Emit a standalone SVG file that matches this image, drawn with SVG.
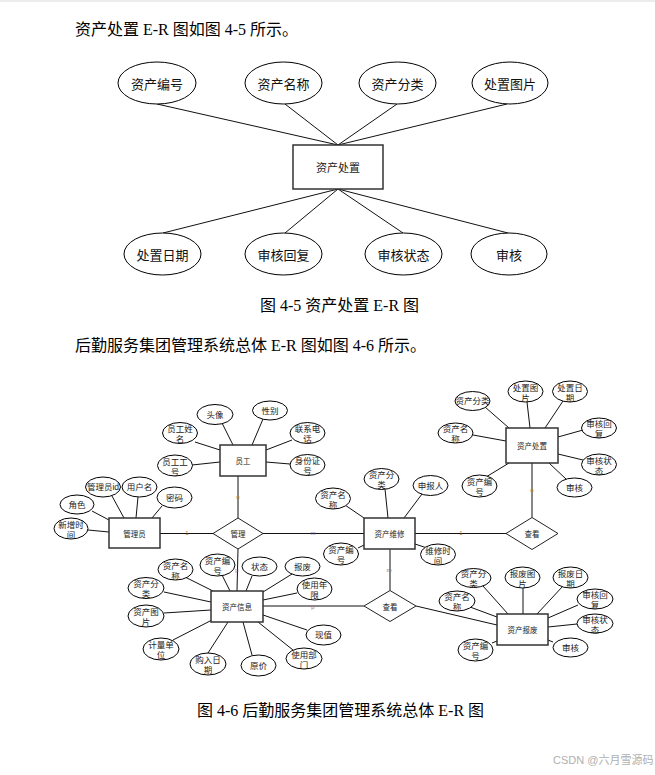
<svg xmlns="http://www.w3.org/2000/svg" width="655" height="775" viewBox="0 0 655 775">
<style>
.e{fill:#fff;stroke:#000;stroke-width:1}
.r{fill:#fff;stroke:#333;stroke-width:1.5}
.d{fill:#fff;stroke:#222;stroke-width:1}
.c line{stroke:#111;stroke-width:1}
.t1{font-family:"Noto Sans CJK SC",sans-serif;font-size:13px;text-anchor:middle;dominant-baseline:central;fill:#111}
.t2{font-family:"Liberation Sans","Noto Sans CJK SC",sans-serif;font-size:8.5px;text-anchor:middle;dominant-baseline:central;fill:#222}
.rt{font-family:"Noto Sans CJK SC",sans-serif;font-size:7.5px;text-anchor:middle;dominant-baseline:central;fill:#222}
.rt1{font-family:"Noto Sans CJK SC",sans-serif;font-size:11px;text-anchor:middle;dominant-baseline:central;fill:#222}
.p{font-family:"Liberation Serif","Noto Sans CJK SC",serif;font-size:16px;fill:#000}
.card{font-family:"Liberation Sans",sans-serif;font-size:6px;text-anchor:middle;dominant-baseline:central}
.o{fill:#c0702a}
.b{fill:#4a7aa8}
.wm{font-family:"Liberation Sans","Noto Sans CJK SC",sans-serif;font-size:11px;fill:#b0b0b0}
</style>
<rect width="655" height="775" fill="#fff"/>
<rect width="655" height="2" fill="#ececec"/>

<text class="p" x="75" y="35">资产处置 E-R 图如图 4-5 所示。</text>

<!-- Diagram 1 connectors -->
<g id="connectors-1" class="c">
<line x1="157" y1="104" x2="338" y2="145"/>
<line x1="285" y1="104" x2="338" y2="145"/>
<line x1="397" y1="104" x2="338" y2="145"/>
<line x1="507" y1="104" x2="338" y2="145"/>
<line x1="338" y1="189" x2="163" y2="233"/>
<line x1="338" y1="189" x2="285" y2="233"/>
<line x1="338" y1="189" x2="403" y2="233"/>
<line x1="338" y1="189" x2="508" y2="233"/>
</g>
<g id="d1-attr-bianhao"><ellipse class="e" cx="157" cy="83" rx="39" ry="21"/><text class="t1" x="157" y="83">资产编号</text></g>
<g id="d1-attr-mingcheng"><ellipse class="e" cx="283.5" cy="83" rx="38.5" ry="21"/><text class="t1" x="283.5" y="83">资产名称</text></g>
<g id="d1-attr-fenlei"><ellipse class="e" cx="397.5" cy="83" rx="38.5" ry="21"/><text class="t1" x="397.5" y="83">资产分类</text></g>
<g id="d1-attr-tupian"><ellipse class="e" cx="510" cy="83" rx="38" ry="21"/><text class="t1" x="510" y="83">处置图片</text></g>
<g id="d1-entity"><rect class="r" x="293" y="145" width="90" height="44"/><text class="rt1" x="338" y="167">资产处置</text></g>
<g id="d1-attr-riqi"><ellipse class="e" cx="162.5" cy="254" rx="38.5" ry="21"/><text class="t1" x="162.5" y="254">处置日期</text></g>
<g id="d1-attr-huifu"><ellipse class="e" cx="283.5" cy="254" rx="38.5" ry="21"/><text class="t1" x="283.5" y="254">审核回复</text></g>
<g id="d1-attr-zhuangtai"><ellipse class="e" cx="403.5" cy="254" rx="38.5" ry="21"/><text class="t1" x="403.5" y="254">审核状态</text></g>
<g id="d1-attr-shenhe"><ellipse class="e" cx="509" cy="254" rx="38" ry="21"/><text class="t1" x="509" y="254">审核</text></g>

<text class="p" x="260" y="311">图 4-5 资产处置 E-R 图</text>

<text class="p" x="75" y="351">后勤服务集团管理系统总体 E-R 图如图 4-6 所示。</text>

<!-- Diagram 2 connectors -->
<g id="connectors-2" class="c">
<!-- 员工 -->
<line x1="222" y1="423" x2="233" y2="445"/>
<line x1="263" y1="419" x2="252" y2="445"/>
<line x1="292" y1="440" x2="266" y2="450"/>
<line x1="266" y1="462" x2="290" y2="464"/>
<line x1="195" y1="442" x2="220" y2="450"/>
<line x1="192" y1="465" x2="220" y2="462"/>
<!-- 管理员 -->
<line x1="112" y1="496" x2="124" y2="518"/>
<line x1="138" y1="497" x2="136" y2="518"/>
<line x1="162" y1="506" x2="152" y2="518"/>
<line x1="92" y1="511" x2="109" y2="520"/>
<line x1="88" y1="530" x2="109" y2="532"/>
<!-- 资产维修 -->
<line x1="385" y1="489" x2="388" y2="518"/>
<line x1="422" y1="494" x2="404" y2="518"/>
<line x1="345" y1="505" x2="364" y2="518"/>
<line x1="358" y1="548" x2="364" y2="545"/>
<line x1="427" y1="548" x2="415" y2="544"/>
<!-- 资产处置 -->
<line x1="485" y1="407" x2="509" y2="428"/>
<line x1="527" y1="402" x2="530" y2="428"/>
<line x1="563" y1="401" x2="545" y2="428"/>
<line x1="473" y1="435" x2="506" y2="441"/>
<line x1="583" y1="430" x2="558" y2="437"/>
<line x1="583" y1="460" x2="558" y2="454"/>
<line x1="566" y1="479" x2="549" y2="463"/>
<line x1="486" y1="477" x2="509" y2="463"/>
<!-- 资产信息 -->
<line x1="185" y1="577" x2="213" y2="591"/>
<line x1="222" y1="575" x2="230" y2="591"/>
<line x1="252" y1="576" x2="246" y2="591"/>
<line x1="292" y1="574" x2="263" y2="592"/>
<line x1="297" y1="593" x2="263" y2="600"/>
<line x1="164" y1="592" x2="211" y2="602"/>
<line x1="164" y1="613" x2="211" y2="610"/>
<line x1="173" y1="640" x2="212" y2="620"/>
<line x1="208" y1="653" x2="228" y2="622"/>
<line x1="252" y1="655" x2="243" y2="622"/>
<line x1="293" y1="650" x2="258" y2="622"/>
<line x1="307" y1="630" x2="263" y2="615"/>
<!-- 资产报废 -->
<line x1="483" y1="586" x2="508" y2="614"/>
<line x1="523" y1="588" x2="523" y2="614"/>
<line x1="563" y1="586" x2="537" y2="614"/>
<line x1="470" y1="607" x2="497" y2="617"/>
<line x1="578" y1="605" x2="548" y2="618"/>
<line x1="577" y1="624" x2="548" y2="627"/>
<line x1="553" y1="642" x2="548" y2="640"/>
<line x1="492" y1="643" x2="497" y2="641"/>
<!-- relationships -->
<line x1="238" y1="476" x2="238" y2="518"/>
<line x1="160" y1="533.5" x2="213" y2="533.5"/>
<line x1="263" y1="533.5" x2="364" y2="533.5"/>
<line x1="415" y1="533.5" x2="506" y2="533.5"/>
<line x1="532" y1="463" x2="532" y2="517.5"/>
<line x1="390" y1="549" x2="390" y2="590.5"/>
<line x1="238" y1="549" x2="237" y2="591"/>
<line x1="263" y1="606" x2="364" y2="606"/>
<line x1="416" y1="606" x2="497" y2="625"/>
</g>

<g id="card-labels">
<text class="card o" x="187" y="533">1</text>
<text class="card o" x="238" y="497">n</text>
<text class="card b" x="313" y="533">m</text>
<text class="card o" x="461" y="533">1</text>
<text class="card o" x="532" y="490">n</text>
<text class="card b" x="389" y="570">m</text>
<text class="card o" x="237" y="570">p</text>
<text class="card o" x="313" y="607">p</text>
</g>

<!-- 员工 -->
<g id="yuangong"><rect class="r" x="220" y="445" width="46" height="31"/><text class="rt" x="243" y="460.5">员工</text></g>
<g id="yg-touxiang"><ellipse class="e" cx="215" cy="414.5" rx="18" ry="10"/><text class="t2" x="215" y="414.5">头像</text></g>
<g id="yg-xingbie"><ellipse class="e" cx="270" cy="410.5" rx="17.5" ry="9.5"/><text class="t2" x="270" y="410.5">性别</text></g>
<g id="yg-xingming"><ellipse class="e" cx="180" cy="433" rx="17.5" ry="10.5"/><text class="t2" x="180" y="429">员工姓</text><text class="t2" x="180" y="439">名</text></g>
<g id="yg-gonghao"><ellipse class="e" cx="175" cy="465.5" rx="17.5" ry="10.5"/><text class="t2" x="175" y="461.5">员工工</text><text class="t2" x="175" y="471.5">号</text></g>
<g id="yg-dianhua"><ellipse class="e" cx="307.5" cy="433" rx="17.5" ry="10.5"/><text class="t2" x="307.5" y="429">联系电</text><text class="t2" x="307.5" y="439">话</text></g>
<g id="yg-shenfenzheng"><ellipse class="e" cx="307.5" cy="465" rx="17.5" ry="10.5"/><text class="t2" x="307.5" y="461">身份证</text><text class="t2" x="307.5" y="471">号</text></g>

<!-- 管理员 -->
<g id="guanliyuan"><rect class="r" x="109" y="518" width="51" height="30"/><text class="rt" x="134.5" y="533">管理员</text></g>
<g id="gly-id"><ellipse class="e" cx="103" cy="487" rx="17.5" ry="10"/><text class="t2" x="103" y="487">管理员id</text></g>
<g id="gly-yonghuming"><ellipse class="e" cx="139.5" cy="487" rx="17.5" ry="10"/><text class="t2" x="139.5" y="487">用户名</text></g>
<g id="gly-mima"><ellipse class="e" cx="174.5" cy="497.5" rx="17.5" ry="10.5"/><text class="t2" x="174.5" y="497.5">密码</text></g>
<g id="gly-juese"><ellipse class="e" cx="77" cy="504.5" rx="17" ry="9.5"/><text class="t2" x="77" y="504.5">角色</text></g>
<g id="gly-xinzeng"><ellipse class="e" cx="71" cy="528.5" rx="17" ry="10.5"/><text class="t2" x="71" y="524.5">新增时</text><text class="t2" x="71" y="534.5">间</text></g>

<!-- 管理 -->
<g id="guanli"><polygon class="d" points="213,533.5 238,518 263,533.5 238,549"/><text class="rt" x="238" y="533.5">管理</text></g>

<!-- 资产维修 -->
<g id="zichanweixiu"><rect class="r" x="364" y="518" width="51" height="31"/><text class="rt" x="389.5" y="533.5">资产维修</text></g>
<g id="wx-fenlei"><ellipse class="e" cx="381.5" cy="479" rx="17.5" ry="10.5"/><text class="t2" x="381.5" y="475">资产分</text><text class="t2" x="381.5" y="485">类</text></g>
<g id="wx-shenbaoren"><ellipse class="e" cx="430.5" cy="485.5" rx="17.5" ry="10"/><text class="t2" x="430.5" y="485.5">申报人</text></g>
<g id="wx-mingcheng"><ellipse class="e" cx="333" cy="498.5" rx="17.5" ry="10.5"/><text class="t2" x="333" y="494.5">资产名</text><text class="t2" x="333" y="504.5">称</text></g>
<g id="wx-bianhao"><ellipse class="e" cx="341" cy="554" rx="17.5" ry="11"/><text class="t2" x="341" y="550">资产编</text><text class="t2" x="341" y="560">号</text></g>
<g id="wx-shijian"><ellipse class="e" cx="438" cy="554.5" rx="17.5" ry="10.5"/><text class="t2" x="438" y="550.5">维修时</text><text class="t2" x="438" y="560.5">间</text></g>

<!-- 查看 (right) -->
<g id="chakan-1"><polygon class="d" points="506,533.5 532,517.5 558,533.5 532,549.5"/><text class="rt" x="532" y="533.5">查看</text></g>

<!-- 资产处置 -->
<g id="zichanchuzhi"><rect class="r" x="506" y="428" width="52" height="35"/><text class="rt" x="532" y="445.5">资产处置</text></g>
<g id="cz-fenlei"><ellipse class="e" cx="472.5" cy="401" rx="17.5" ry="9.5"/><text class="t2" x="472.5" y="401">资产分类</text></g>
<g id="cz-tupian"><ellipse class="e" cx="525.5" cy="391.5" rx="17.5" ry="10.5"/><text class="t2" x="525.5" y="387.5">处置图</text><text class="t2" x="525.5" y="397.5">片</text></g>
<g id="cz-riqi"><ellipse class="e" cx="570" cy="391.5" rx="17.5" ry="10.5"/><text class="t2" x="570" y="387.5">处置日</text><text class="t2" x="570" y="397.5">期</text></g>
<g id="cz-mingcheng"><ellipse class="e" cx="455.5" cy="433" rx="17.5" ry="10"/><text class="t2" x="455.5" y="429">资产名</text><text class="t2" x="455.5" y="439">称</text></g>
<g id="cz-huifu"><ellipse class="e" cx="599" cy="428" rx="17.5" ry="10"/><text class="t2" x="599" y="424">审核回</text><text class="t2" x="599" y="434">复</text></g>
<g id="cz-zhuangtai"><ellipse class="e" cx="599" cy="464.5" rx="17.5" ry="10.5"/><text class="t2" x="599" y="460.5">审核状</text><text class="t2" x="599" y="470.5">态</text></g>
<g id="cz-shenhe"><ellipse class="e" cx="574.5" cy="487.5" rx="17.5" ry="9.5"/><text class="t2" x="574.5" y="487.5">审核</text></g>
<g id="cz-bianhao"><ellipse class="e" cx="479.5" cy="486" rx="17.5" ry="11"/><text class="t2" x="479.5" y="482">资产编</text><text class="t2" x="479.5" y="492">号</text></g>

<!-- 资产信息 -->
<g id="zichanxinxi"><rect class="r" x="211" y="591" width="52" height="31"/><text class="rt" x="237" y="606.5">资产信息</text></g>
<g id="xx-mingcheng"><ellipse class="e" cx="175.5" cy="569.5" rx="17.5" ry="10.5"/><text class="t2" x="175.5" y="565.5">资产名</text><text class="t2" x="175.5" y="575.5">称</text></g>
<g id="xx-bianhao"><ellipse class="e" cx="217.5" cy="565" rx="17.5" ry="11"/><text class="t2" x="217.5" y="561">资产编</text><text class="t2" x="217.5" y="571">号</text></g>
<g id="xx-zhuangtai"><ellipse class="e" cx="259.5" cy="566.5" rx="17.5" ry="9.5"/><text class="t2" x="259.5" y="566.5">状态</text></g>
<g id="xx-baofei"><ellipse class="e" cx="302.5" cy="566.5" rx="17.5" ry="9.5"/><text class="t2" x="302.5" y="566.5">报废</text></g>
<g id="xx-nianxian"><ellipse class="e" cx="314.5" cy="589" rx="17.5" ry="11"/><text class="t2" x="314.5" y="585">使用年</text><text class="t2" x="314.5" y="595">限</text></g>
<g id="xx-fenlei"><ellipse class="e" cx="146" cy="588" rx="18" ry="10.5"/><text class="t2" x="146" y="584">资产分</text><text class="t2" x="146" y="594">类</text></g>
<g id="xx-tupian"><ellipse class="e" cx="146" cy="616" rx="18" ry="11"/><text class="t2" x="146" y="612">资产图</text><text class="t2" x="146" y="622">片</text></g>
<g id="xx-danwei"><ellipse class="e" cx="161" cy="649" rx="18" ry="11"/><text class="t2" x="161" y="645">计量单</text><text class="t2" x="161" y="655">位</text></g>
<g id="xx-gouru"><ellipse class="e" cx="208" cy="664" rx="18" ry="11"/><text class="t2" x="208" y="660">购入日</text><text class="t2" x="208" y="670">期</text></g>
<g id="xx-yuanjia"><ellipse class="e" cx="258.5" cy="665.5" rx="17.5" ry="10.5"/><text class="t2" x="258.5" y="665.5">原价</text></g>
<g id="xx-bumen"><ellipse class="e" cx="304" cy="658.5" rx="18" ry="10.5"/><text class="t2" x="304" y="654.5">使用部</text><text class="t2" x="304" y="664.5">门</text></g>
<g id="xx-xianzhi"><ellipse class="e" cx="323.5" cy="635" rx="17.5" ry="10"/><text class="t2" x="323.5" y="635">现值</text></g>

<!-- 查看 (lower) -->
<g id="chakan-2"><polygon class="d" points="364,606 390,590.5 416,606 390,621.5"/><text class="rt" x="390" y="606">查看</text></g>

<!-- 资产报废 -->
<g id="zichanbaofei"><rect class="r" x="497" y="614" width="51" height="31"/><text class="rt" x="522.5" y="629.5">资产报废</text></g>
<g id="bf-fenlei"><ellipse class="e" cx="473.5" cy="578" rx="17.5" ry="9.5"/><text class="t2" x="473.5" y="574">资产分</text><text class="t2" x="473.5" y="584">类</text></g>
<g id="bf-tupian"><ellipse class="e" cx="522.5" cy="577.5" rx="17.5" ry="10.5"/><text class="t2" x="522.5" y="573.5">报废图</text><text class="t2" x="522.5" y="583.5">片</text></g>
<g id="bf-riqi"><ellipse class="e" cx="570.5" cy="577.5" rx="17.5" ry="10.5"/><text class="t2" x="570.5" y="573.5">报废日</text><text class="t2" x="570.5" y="583.5">期</text></g>
<g id="bf-mingcheng"><ellipse class="e" cx="457" cy="601" rx="18" ry="10"/><text class="t2" x="457" y="597">资产名</text><text class="t2" x="457" y="607">称</text></g>
<g id="bf-huifu"><ellipse class="e" cx="595" cy="599" rx="18" ry="10"/><text class="t2" x="595" y="595">审核回</text><text class="t2" x="595" y="605">复</text></g>
<g id="bf-zhuangtai"><ellipse class="e" cx="595" cy="623.5" rx="18" ry="9.5"/><text class="t2" x="595" y="619.5">审核状</text><text class="t2" x="595" y="629.5">态</text></g>
<g id="bf-shenhe"><ellipse class="e" cx="570.5" cy="647.5" rx="17.5" ry="9.5"/><text class="t2" x="570.5" y="647.5">审核</text></g>
<g id="bf-bianhao"><ellipse class="e" cx="475.5" cy="650" rx="17.5" ry="11"/><text class="t2" x="475.5" y="646">资产编</text><text class="t2" x="475.5" y="656">号</text></g>

<text class="p" x="197" y="716">图 4-6 后勤服务集团管理系统总体 E-R 图</text>

<text class="wm" x="553" y="764">CSDN @六月雪源码</text>
</svg>
